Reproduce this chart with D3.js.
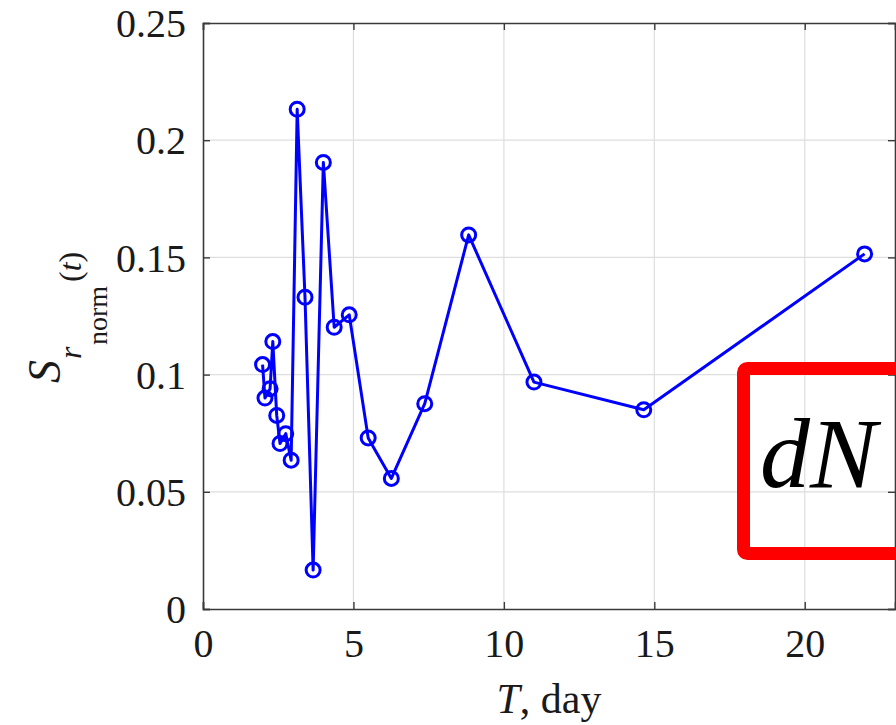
<!DOCTYPE html>
<html>
<head>
<meta charset="utf-8">
<script src="https://cdn.jsdelivr.net/npm/d3@7"></script>
<style>
  body { margin: 0; background: #fff; }
  svg { display: block; font-family: "Liberation Serif", "Times New Roman", serif; }
</style>
</head>
<body>
<svg width="896" height="725"></svg>
<script>
// observation time, days
const days = [1.98, 2.06, 2.23, 2.32, 2.45, 2.56, 2.75, 2.93, 3.13, 3.39, 3.66,
              4.00, 4.36, 4.86, 5.49, 6.26, 7.37, 8.83, 11.00, 14.65, 21.99];
// normalised S_r values
const sNorm = [0.1043, 0.0900, 0.0940, 0.1141, 0.0826, 0.0706, 0.0748, 0.0635, 0.2132, 0.1330, 0.0166,
               0.1905, 0.1202, 0.1255, 0.0730, 0.0557, 0.0876, 0.1596, 0.0968, 0.0850, 0.1515];

const xTicks = [0, 5, 10, 15, 20];
const yTicks = [0, 0.05, 0.1, 0.15, 0.2, 0.25];

const dataset = days.map((d, i) => ({T: d, S: sNorm[i]}));

const margin = {left: 203, top: 23};
const w = 692;
const h = 586;

const svg = d3.select("svg");
const g = svg.append("g")
             .attr("transform", "translate(" + margin.left + "," + margin.top + ")");

const xScale = d3.scaleLinear().domain([0, 23]).range([0, w]);
const yScale = d3.scaleLinear().domain([0, 0.25]).range([h, 0]);

// grid
g.append("g")
   .selectAll("line.gx")
   .data(xTicks.slice(1))
   .enter().append("line")
   .attr("x1", d => xScale(d)).attr("x2", d => xScale(d))
   .attr("y1", 0).attr("y2", h)
   .attr("stroke", "#dedede").attr("stroke-width", 1.2);

g.append("g")
   .selectAll("line.gy")
   .data(yTicks.slice(1, -1))
   .enter().append("line")
   .attr("x1", 0).attr("x2", w)
   .attr("y1", d => yScale(d)).attr("y2", d => yScale(d))
   .attr("stroke", "#dedede").attr("stroke-width", 1.2);

// axes (ticks point inward, like matlab)
const fmt = d3.format("");
const xAxis = d3.axisBottom(xScale).tickValues(xTicks).tickSize(-7).tickPadding(18).tickFormat(fmt);
const yAxis = d3.axisLeft(yScale).tickValues(yTicks).tickSize(-7).tickPadding(17).tickFormat(fmt);
const xTop = d3.axisTop(xScale).tickValues(xTicks).tickSize(-7).tickFormat("");
const yRight = d3.axisRight(yScale).tickValues(yTicks).tickSize(-7).tickFormat("");

function styleAxis(sel) {
  sel.select(".domain").attr("stroke", "#3a3a3a").attr("stroke-width", 1.6);
  sel.selectAll(".tick line").attr("stroke", "#3a3a3a").attr("stroke-width", 1.4);
  sel.selectAll(".tick text")
     .attr("fill", "#1a1a1a")
     .style("font-family", "'Liberation Serif', serif")
     .style("font-size", "40px");
}

g.append("g").attr("transform", "translate(0," + h + ")").call(xAxis).call(styleAxis)
   .selectAll(".tick text").attr("dy", "0.74em");
g.append("g").call(yAxis).call(styleAxis)
   .selectAll(".tick text").attr("dy", "0.34em");
g.append("g").call(xTop).call(styleAxis);
g.append("g").attr("transform", "translate(" + w + ",0)").call(yRight).call(styleAxis);

// series
const line = d3.line().x(d => xScale(d.T)).y(d => yScale(d.S));

g.append("path")
   .datum(dataset)
   .attr("d", line)
   .attr("fill", "none")
   .attr("stroke", "#0000ff")
   .attr("stroke-width", 3)
   .attr("stroke-linejoin", "round");

g.selectAll("circle")
   .data(dataset)
   .enter()
   .append("circle")
   .attr("cx", d => xScale(d.T))
   .attr("cy", d => yScale(d.S))
   .attr("r", 7)
   .attr("fill", "none")
   .attr("stroke", "#0000ff")
   .attr("stroke-width", 3);

// x label
svg.append("text")
   .attr("x", margin.left + w / 2)
   .attr("y", 713)
   .attr("text-anchor", "middle")
   .attr("fill", "#1a1a1a")
   .style("font-size", "42px")
   .html("<tspan font-style='italic'>T</tspan>, day");

// y label: S_{r_{norm}}(t), rotated
const yl = svg.append("text")
   .attr("transform", "translate(60,383) rotate(-90)")
   .attr("fill", "#1a1a1a");
yl.append("tspan").attr("x", 0).attr("y", 0)
  .style("font-size", "46px").style("font-style", "italic").text("S");
yl.append("tspan").attr("x", 24).attr("y", 21)
  .style("font-size", "32px").style("font-style", "italic").text("r");
yl.append("tspan").attr("x", 38).attr("y", 47)
  .style("font-size", "28px").text("norm");
yl.append("tspan").attr("x", 101).attr("y", 21)
  .style("font-size", "32px").text("(");
yl.append("tspan")
  .style("font-size", "32px").style("font-style", "italic").text("t");
yl.append("tspan")
  .style("font-size", "32px").text(")");

// red annotation box
svg.append("rect")
   .attr("x", 743.5).attr("y", 368.5)
   .attr("width", 200).attr("height", 185)
   .attr("rx", 4)
   .attr("fill", "none")
   .attr("stroke", "#ff0000")
   .attr("stroke-width", 13);

svg.append("text")
   .attr("x", 760).attr("y", 487)
   .attr("fill", "#000")
   .style("font-size", "100px")
   .style("font-style", "italic")
   .text("dN");
</script>
</body>
</html>
